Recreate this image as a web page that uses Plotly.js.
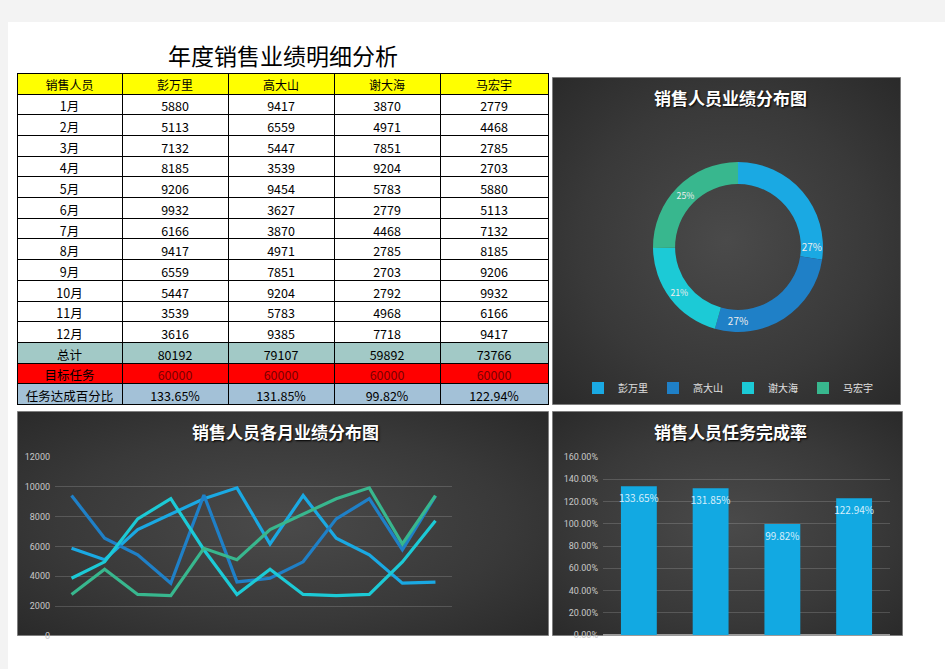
<!DOCTYPE html>
<html><head><meta charset="utf-8">
<script src="https://cdn.plot.ly/plotly-3.0.1.min.js"></script>
<style>html,body{margin:0;padding:0;background:#fff;}#chart{width:945px;height:669px;}</style>
</head><body><div id="chart"></div>
<script>
const W = 945, H = 669;
const people = ['彭万里','高大山','谢大海','马宏宇'];
const months = ['1月','2月','3月','4月','5月','6月','7月','8月','9月','10月','11月','12月'];
const monthNums = [1,2,3,4,5,6,7,8,9,10,11,12];
const pengWanli = [5880,5113,7132,8185,9206,9932,6166,9417,6559,5447,3539,3616];
const gaoDashan = [9417,6559,5447,3539,9454,3627,3870,4971,7851,9204,5783,9385];
const xieDahai  = [3870,4971,7851,9204,5783,2779,4468,2785,2703,2792,4968,7718];
const maHongyu  = [2779,4468,2785,2703,5880,5113,7132,8185,9206,9932,6166,9417];
const totals  = [80192,79107,59892,73766];
const targets = [60000,60000,60000,60000];
const rates   = [1.3365,1.3185,0.9982,1.2294];
const rateLabels = ['133.65%','131.85%','99.82%','122.94%'];
const pieLabels = ['27%','27%','21%','25%'];
const colors = ['#1aa9e3','#1f80c7','#1ccad6','#38b78e'];
const series = [pengWanli,gaoDashan,xieDahai,maHongyu];

const px = x => x / W;
const py = y => 1 - y / H;
const CJK = '"Noto Sans CJK SC", "Noto Sans", sans-serif';

const firstCol = months.concat(['总计','目标任务','任务达成百分比']);
const cols = [firstCol];
for (let i = 0; i < 4; i++) {
  cols.push(series[i].map(String).concat([String(totals[i]), String(targets[i]), rateLabels[i]]));
}
const rowFill = firstCol.map((_, r) => r < 12 ? '#ffffff' : (r === 12 ? '#a2c9c6' : (r === 13 ? '#ff0000' : '#a3c1d7')));
const fillCols = cols.map(() => rowFill);
const fontCols = cols.map((c, ci) => firstCol.map((_, r) => (r === 13 && ci > 0) ? '#7a0000' : '#000000'));

const traces = [];
traces.push({
  type: 'table',
  domain: {x: [px(17), px(548)], y: [py(405), py(73)]},
  columnwidth: [105, 106, 106, 106, 108],
  header: {
    values: [['销售人员']].concat(people.map(p => [p])),
    fill: {color: '#ffff00'},
    line: {color: '#000', width: 1},
    align: 'center', height: 21,
    font: {family: CJK, size: 12, color: '#000'}
  },
  cells: {
    values: cols,
    fill: {color: fillCols},
    line: {color: '#000', width: 1},
    align: 'center', height: 20.7,
    font: {family: CJK, size: 12.5, color: fontCols}
  }
});

traces.push({
  type: 'pie',
  labels: people, values: totals, text: pieLabels,
  textinfo: 'text', textposition: 'inside', insidetextorientation: 'horizontal',
  textfont: {family: CJK, size: 10, color: '#eeeeee'},
  hole: 0.74, sort: false, direction: 'clockwise', rotation: 0,
  marker: {colors: colors, line: {width: 0}},
  domain: {x: [px(653), px(823)], y: [py(332), py(162)]},
  showlegend: true
});

for (let i = 0; i < 4; i++) {
  traces.push({
    type: 'scatter', mode: 'lines', x: monthNums, y: series[i], name: people[i],
    line: {color: colors[i], width: 3.2}, xaxis: 'x', yaxis: 'y', showlegend: false
  });
}

traces.push({
  type: 'bar', x: people, y: rates, textposition: 'none',
  marker: {color: '#12a9e2'}, xaxis: 'x2', yaxis: 'y2', showlegend: false
});
traces.push({
  type: 'scatter', mode: 'markers+text', x: people, y: rates, text: rateLabels, textposition: 'bottom center',
  marker: {size: 12, color: 'rgba(0,0,0,0)'},
  textfont: {family: CJK, size: 10, color: '#d6eefb'}, xaxis: 'x2', yaxis: 'y2', showlegend: false
});

function bgSvg(w, h) {
  const s = `<svg xmlns="http://www.w3.org/2000/svg" width="${w}" height="${h}" viewBox="0 0 ${w} ${h}" preserveAspectRatio="none">` +
    `<defs><radialGradient id="g" cx="50%" cy="50%" r="70%"><stop offset="0" stop-color="#4a4a4a"/><stop offset="0.6" stop-color="#393939"/><stop offset="1" stop-color="#2a2a2a"/></radialGradient></defs>` +
    `<rect x="0" y="0" width="${w}" height="${h}" fill="url(#g)" stroke="#9a9a9a" stroke-width="1.5"/></svg>`;
  return 'data:image/svg+xml;utf8,' + encodeURIComponent(s);
}
function panel(x0, y0, x1, y1) {
  return {source: bgSvg(x1 - x0, y1 - y0), xref: 'paper', yref: 'paper', x: px(x0), y: py(y0),
    sizex: (x1 - x0) / W, sizey: (y1 - y0) / H, sizing: 'stretch', xanchor: 'left', yanchor: 'top', layer: 'below'};
}

const titleFont = {family: CJK, size: 17, color: '#ffffff', weight: 'bold', shadow: '1px 1px 2px #000'};
const tickFont = {family: 'Roboto, "DejaVu Sans", sans-serif', size: 9, color: '#c8c8c8'};

const layout = {
  width: W, height: H, margin: {l: 0, r: 0, t: 0, b: 0},
  paper_bgcolor: '#ffffff', plot_bgcolor: 'rgba(0,0,0,0)',
  showlegend: true,
  legend: {orientation: 'h', x: px(728), y: py(388), xanchor: 'center', yanchor: 'middle',
    font: {family: CJK, size: 10, color: '#e0e0e0'}, bgcolor: 'rgba(0,0,0,0)', itemwidth: 30, tracegroupgap: 0},
  xaxis: {domain: [px(55), px(452)], range: [0.5, 12.5], showticklabels: false, showgrid: false, zeroline: false, showline: false, ticks: ''},
  yaxis: {domain: [py(636), py(457)], range: [0, 12000], dtick: 2000, tickformat: 'd', tickfont: tickFont,
    gridcolor: 'rgba(255,255,255,0.16)', gridwidth: 1, zeroline: false, showline: false, ticks: '', ticklabelstandoff: 4},
  xaxis2: {domain: [px(603), px(890)], showticklabels: false, showgrid: false, zeroline: false, showline: false, ticks: '', anchor: 'y2'},
  yaxis2: {domain: [py(635), py(457)], range: [0, 1.6], dtick: 0.2, tickformat: '.2%', tickfont: tickFont, anchor: 'x2',
    gridcolor: 'rgba(255,255,255,0.16)', zeroline: true, zerolinecolor: '#9a9a9a', zerolinewidth: 2, showline: false, ticks: '', ticklabelstandoff: 4},
  bargap: 0.5,
  images: [panel(552, 77, 901, 405), panel(17, 411, 549, 636), panel(552, 411, 903, 636)],
  shapes: [
    {type: 'rect', xref: 'paper', yref: 'paper', x0: 0, x1: 1, y0: py(22), y1: 1, fillcolor: '#f3f3f3', line: {width: 0}, layer: 'below'},
    {type: 'rect', xref: 'paper', yref: 'paper', x0: 0, x1: px(8), y0: 0, y1: 1, fillcolor: '#f3f3f3', line: {width: 0}, layer: 'below'}
  ],
  annotations: [
    {text: '年度销售业绩明细分析', xref: 'paper', yref: 'paper', x: px(283), y: py(55), xanchor: 'center', yanchor: 'middle', showarrow: false,
      font: {family: CJK, size: 23, color: '#000'}},
    {text: '销售人员业绩分布图', xref: 'paper', yref: 'paper', x: px(730), y: py(97), xanchor: 'center', yanchor: 'middle', showarrow: false, font: titleFont},
    {text: '销售人员各月业绩分布图', xref: 'paper', yref: 'paper', x: px(285), y: py(431), xanchor: 'center', yanchor: 'middle', showarrow: false, font: titleFont},
    {text: '销售人员任务完成率', xref: 'paper', yref: 'paper', x: px(730), y: py(431), xanchor: 'center', yanchor: 'middle', showarrow: false, font: titleFont}
  ]
};

Plotly.newPlot('chart', traces, layout, {displayModeBar: false, staticPlot: true});
</script></body></html>
